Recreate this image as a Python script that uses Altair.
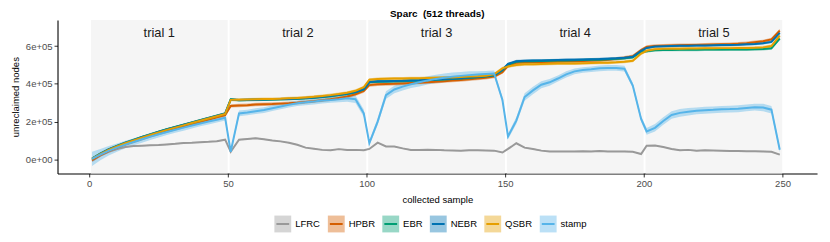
import altair as alt
import pandas as pd

# ---------------- data ----------------
series = ["LFRC", "HPBR", "EBR", "NEBR", "QSBR", "stamp"]
colors = ["#999999", "#D55E00", "#009E73", "#0072B2", "#E69F00", "#56B4E9"]

trial_names = ["trial 1", "trial 2", "trial 3", "trial 4", "trial 5"]
trial_start = [0.6, 50.6, 100.6, 150.6, 200.6]
trial_end = [49.9, 99.9, 149.9, 199.9, 249.9]

offsets = [1, 4, 7, 10, 13, 16, 19, 22, 25, 28, 31, 34, 37, 40, 43, 46, 49]
sample = [50 * t + o for t in range(5) for o in offsets]

# values in thousands of unreclaimed nodes, one row per trial
lfrc = [
    -8, 20, 40, 55, 65, 70, 72, 74, 76, 79, 82, 86, 88, 91, 93, 96, 104,
    40, 104, 108, 112, 106, 100, 95, 88, 77, 62, 56, 50, 48, 54, 50, 50, 48,
    55, 88, 68, 68, 58, 50, 50, 51, 50, 48, 47, 46, 48, 48, 47, 46, 36,
    55, 85, 62, 55, 46, 42, 42, 42, 42, 43, 42, 44, 42, 42, 42, 40, 28,
    72, 73, 65, 55, 48, 50, 46, 48, 47, 46, 44, 44, 43, 43, 42, 40, 25,
]
hpbr = [
    -4, 22, 44, 62, 79, 94, 109, 123, 137, 150, 162, 174, 186, 198, 210, 222, 234,
    283, 285, 287, 290, 292, 293, 295, 297, 300, 304, 308, 313, 318, 325, 333, 345, 362,
    393, 398, 399, 400, 402, 404, 406, 408, 411, 414, 417, 420, 424, 428, 432, 438, 462,
    495, 512, 514, 515, 516, 517, 518, 519, 520, 521, 523, 525, 528, 532, 538, 546, 578,
    595, 600, 602, 603, 604, 605, 606, 607, 608, 609, 610, 612, 615, 620, 625, 635, 682,
]
ebr = [
    4, 30, 53, 71, 88, 103, 118, 132, 146, 159, 171, 183, 195, 207, 219, 231, 243,
    318, 313, 314, 315, 316, 317, 318, 319, 321, 323, 326, 330, 334, 340, 346, 355, 370,
    408, 411, 412, 413, 414, 416, 417, 419, 421, 423, 425, 428, 431, 434, 438, 444, 472,
    502, 517, 519, 520, 521, 522, 523, 524, 525, 526, 527, 528, 530, 532, 535, 540, 570,
    572, 578, 579, 579, 580, 580, 580, 581, 581, 581, 582, 582, 582, 583, 584, 588, 640,
]
nebr = [
    3, 29, 52, 70, 87, 102, 117, 131, 145, 158, 170, 182, 194, 206, 218, 230, 242,
    316, 314, 315, 316, 317, 318, 319, 320, 322, 325, 328, 332, 336, 342, 348, 357, 372,
    410, 413, 414, 415, 416, 418, 419, 421, 423, 425, 427, 430, 433, 436, 440, 446, 475,
    505, 520, 522, 523, 524, 525, 526, 527, 528, 529, 530, 531, 533, 535, 538, 543, 575,
    590, 598, 599, 600, 601, 602, 603, 603, 604, 605, 606, 607, 609, 611, 615, 622, 670,
]
qsbr = [
    2, 28, 50, 68, 85, 100, 115, 129, 143, 156, 168, 180, 192, 204, 216, 228, 240,
    315, 316, 317, 318, 319, 320, 321, 323, 325, 328, 331, 335, 340, 346, 353, 363, 382,
    422, 425, 427, 428, 428, 429, 430, 431, 432, 433, 434, 436, 438, 440, 443, 450, 482,
    492, 500, 503, 504, 505, 506, 507, 508, 508, 509, 510, 511, 512, 514, 517, 522, 560,
    575, 583, 585, 586, 586, 587, 587, 588, 588, 589, 589, 590, 590, 591, 593, 600, 655,
]
stamp = [
    2, 25, 45, 62, 78, 92, 106, 120, 133, 145, 157, 168, 179, 190, 200, 210, 220,
    40, 243, 248, 255, 261, 271, 280, 289, 297, 302, 306, 311, 314, 318, 323, 318, 244,
    86, 200, 340, 370, 385, 398, 408, 418, 426, 432, 438, 442, 446, 449, 452, 455, 314,
    121, 205, 330, 365, 395, 408, 428, 450, 466, 473, 477, 482, 484, 484, 480, 391, 214,
    148, 167, 203, 235, 246, 252, 257, 260, 262, 265, 266, 268, 272, 276, 274, 263, 51,
]
# half-width of the confidence ribbons (thousands)
stamp_spread = [
    38, 30, 25, 22, 20, 18, 18, 17, 17, 16, 16, 16, 16, 15, 15, 15, 15,
    12, 15, 15, 15, 15, 15, 15, 15, 15, 15, 15, 15, 15, 16, 18, 20, 20,
    12, 18, 20, 20, 20, 20, 22, 22, 22, 22, 22, 20, 20, 18, 16, 15, 15,
    15, 18, 20, 20, 18, 18, 16, 16, 15, 15, 15, 15, 15, 15, 15, 15, 15,
    18, 20, 20, 20, 20, 20, 18, 18, 18, 18, 18, 18, 18, 18, 20, 20, 15,
]
other_spread = {"LFRC": 3, "HPBR": 9, "EBR": 7, "NEBR": 7, "QSBR": 8}

values = {"LFRC": lfrc, "HPBR": hpbr, "EBR": ebr, "NEBR": nebr, "QSBR": qsbr, "stamp": stamp}

rows = []
for name in series:
    for i, s in enumerate(sample):
        v = values[name][i] * 1000
        sp = (stamp_spread[i] if name == "stamp" else other_spread[name]) * 1000
        rows.append({"sample": s, "series": name, "value": v, "lo": v - sp, "hi": v + sp})
df = pd.DataFrame(rows)

panels = pd.DataFrame({
    "name": trial_names,
    "start": trial_start,
    "end": trial_end,
    "mid": [(a + b) / 2 for a, b in zip(trial_start, trial_end)],
})

# ---------------- chart ----------------
FONT = "Liberation Sans"
xscale = alt.Scale(domain=[-11.45, 262.45], nice=False, zero=False)
yscale = alt.Scale(domain=[-75000, 738000], nice=False, zero=False)
xaxis = alt.Axis(values=[0, 50, 100, 150, 200, 250], format="d", title="collected sample",
                 labelAngle=0)
yaxis = alt.Axis(values=[0, 200000, 400000, 600000], title="unreclaimed nodes",
                 labelExpr="replace(format(datum.value, '.0e'), 'e+', 'e+0')")

common_legend = dict(
    title=None, orient="none", legendX=218, legendY=196.5, direction="horizontal",
    symbolSize=289, symbolStrokeWidth=2, labelFont=FONT, labelFontSize=9.6,
    labelOffset=3, columnPadding=3, labelColor="black",
)

bg = alt.Chart(panels).mark_rect(color="#F5F5F5").encode(
    x=alt.X("start:Q", scale=xscale, axis=xaxis),
    x2="end:Q",
)

panel_text = alt.Chart(panels).mark_text(
    font=FONT, fontSize=13, color="#1A1A1A", baseline="middle", align="center"
).encode(
    x=alt.X("mid:Q", scale=xscale, axis=xaxis),
    y=alt.value(12.7),
    text="name:N",
)

band = alt.Chart(df).mark_area(opacity=0.4).encode(
    x=alt.X("sample:Q", scale=xscale, axis=xaxis),
    y=alt.Y("lo:Q", scale=yscale, axis=yaxis),
    y2="hi:Q",
    fill=alt.Fill("series:N", scale=alt.Scale(domain=series, range=colors),
                  legend=alt.Legend(symbolType="square", symbolOpacity=0.4,
                                    symbolStrokeColor="transparent", labelOpacity=0,
                                    zindex=0, **common_legend)),
    detail="series:N",
)

# invisible move-to points keep the symbol bounds equal to the square boxes
line = alt.Chart(df).mark_line(strokeWidth=2).encode(
    x=alt.X("sample:Q", scale=xscale, axis=xaxis),
    y=alt.Y("value:Q", scale=yscale, axis=yaxis),
    stroke=alt.Stroke("series:N", scale=alt.Scale(domain=series, range=colors),
                      legend=alt.Legend(symbolType="M-1,-1M1,1M-0.76,0H0.76", symbolOpacity=1,
                                        zindex=1, **common_legend)),
    detail="series:N",
)

chart = alt.layer(bg, panel_text, band, line).resolve_scale(
    fill="independent", stroke="independent"
).properties(
    width=767,
    height=155,
    autosize=alt.AutoSizeParams(type="none"),
    padding={"left": 50, "top": 11, "right": 5, "bottom": 60},
    title=alt.TitleParams("Sparc\u00a0 (512 threads)", font=FONT, fontSize=10,
                          fontWeight="bold", anchor="middle", offset=1, color="black"),
).configure_view(
    stroke=None
).configure_axis(
    grid=False,
    domainColor="black",
    domainWidth=1.1,
    tickColor="#333333",
    tickSize=3.5,
    tickWidth=1,
    labelFont=FONT,
    labelFontSize=9.6,
    labelColor="#4D4D4D",
    labelPadding=2,
    titleFont=FONT,
    titleFontSize=9.6,
    titleFontWeight="normal",
    titleColor="black",
).configure_axisY(
    titlePadding=5,
).configure_axisX(
    titlePadding=6,
)

chart.save("out.html", embed_options={"renderer": "svg", "actions": False})
